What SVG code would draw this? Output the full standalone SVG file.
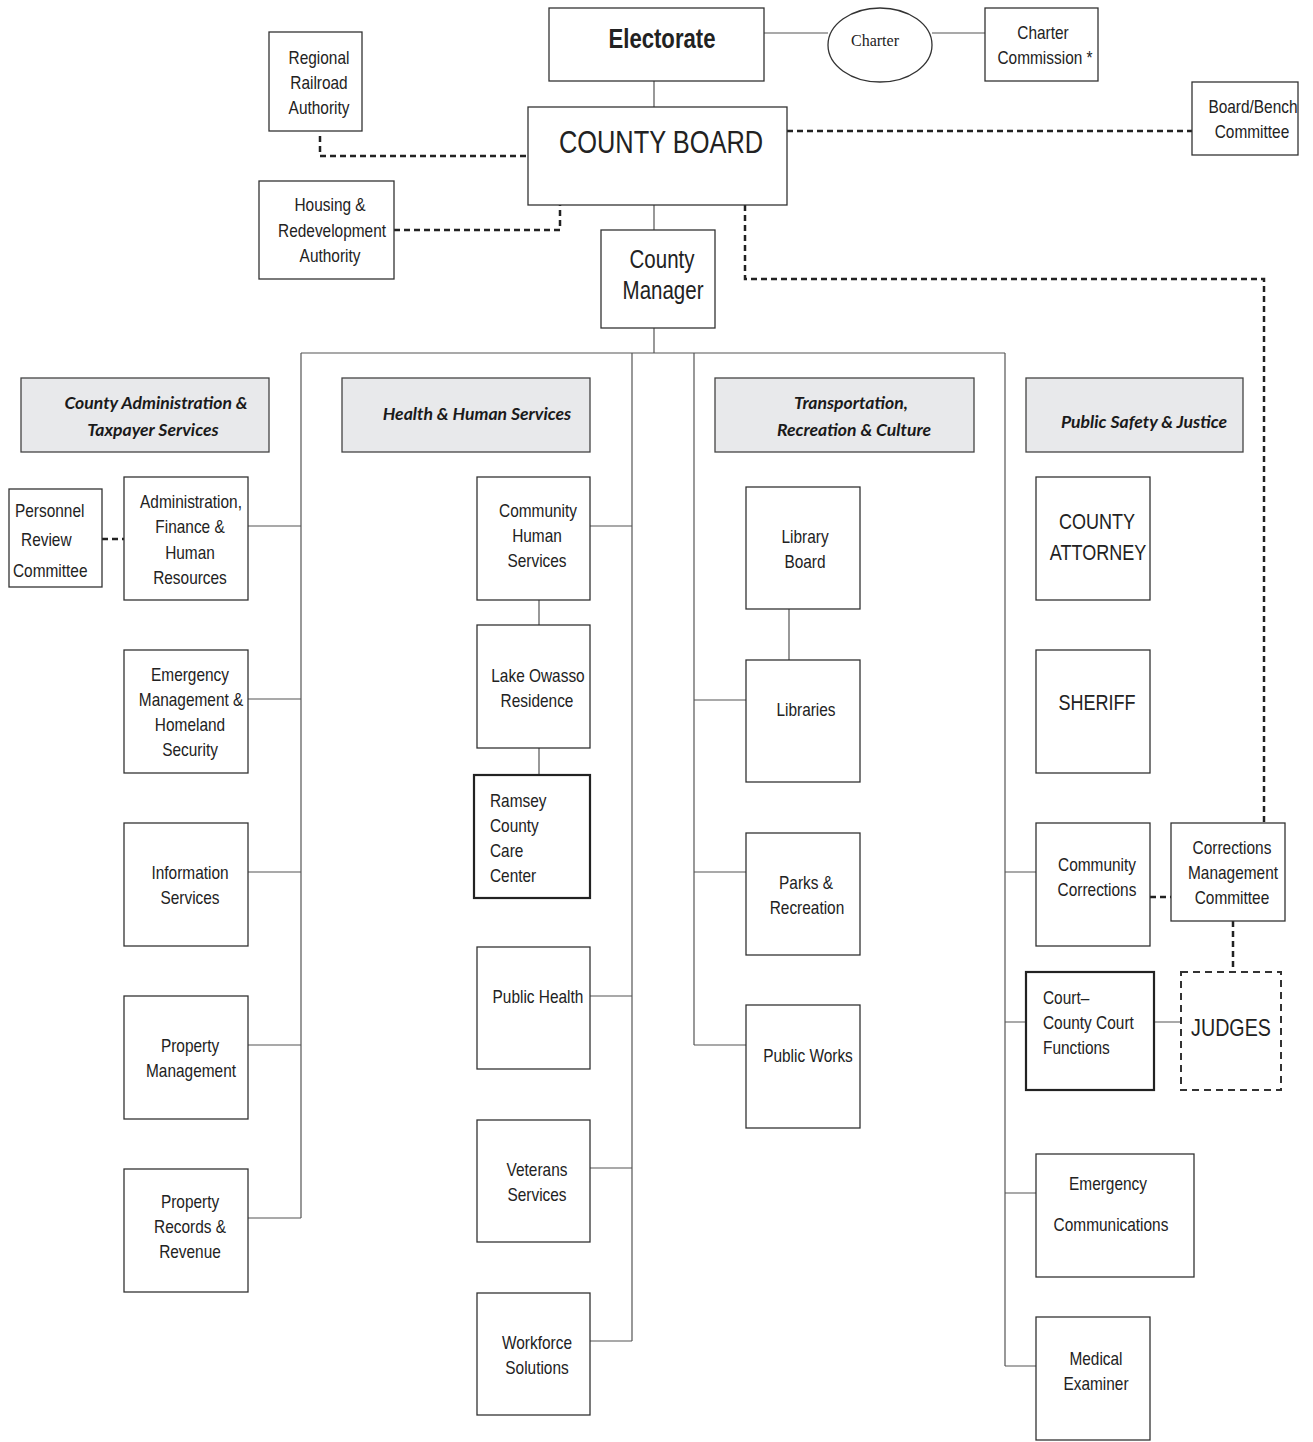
<svg xmlns="http://www.w3.org/2000/svg" width="1313" height="1442" viewBox="0 0 1313 1442">
<style>
.b{fill:#fff;stroke:#333;stroke-width:1.3}
.bt{fill:#fff;stroke:#222;stroke-width:2.2}
.h{fill:#e8e9eb;stroke:#444;stroke-width:1.3}
.t{font-family:"Liberation Sans",Arial,sans-serif;font-size:18.8px;fill:#222;text-anchor:middle;transform-box:fill-box;transform-origin:center;transform:scaleX(0.82)}
.l{text-anchor:start;transform-origin:left center}
.hd{font-family:Lato,"Open Sans",sans-serif;font-weight:bold;font-style:italic;font-size:17.6px;fill:#1a1a1a;text-anchor:middle}
.c{stroke:#555;stroke-width:1.2;fill:none}
.d{stroke:#222;stroke-width:2.5;stroke-dasharray:6 4;fill:none}
</style>
<rect width="1313" height="1442" fill="#fff"/>
<g id="connectors">
<path class="c" d="M764 33H828M932 33H985M654 81V107M654 205V230M654 328V353M301 353H1005M301 353V1218M632 353V1341M694 353V1045M1005 353V1366"/>
<path class="c" d="M248 526H301M248 699H301M248 872H301M248 1045H301M248 1218H301"/>
<path class="c" d="M590 526H632M539 600V625M539 748V775M590 996H632M590 1168H632M590 1341H632"/>
<path class="c" d="M789 609V660M694 700H746M694 872H746M694 1045H746"/>
<path class="c" d="M1005 872H1036M1005 1022H1026M1154 1022H1181M1005 1193H1036M1005 1366H1036"/>
<path class="d" d="M320 136V156H528"/>
<path class="d" d="M394 230H560V205"/>
<path class="d" d="M787 131H1192"/>
<path class="d" d="M745 205V279H1264V822"/>
<path class="d" d="M102 539H124"/>
<path class="d" d="M1150 897H1171"/>
<path class="d" d="M1233 921V972"/>
</g>
<g id="electorate"><rect class="b" x="549" y="8" width="215" height="73"/><text class="t" x="662" y="48" style="font-size:27px;font-weight:bold">Electorate</text></g>
<g id="charter"><ellipse fill="#fff" stroke="#333" stroke-width="1.3" cx="880" cy="45" rx="52" ry="37"/><text x="875" y="46" style="font-family:'Liberation Serif',serif;font-size:16px;fill:#222;text-anchor:middle">Charter</text></g>
<g id="charter-commission"><rect class="b" x="985" y="8" width="113" height="73"/><text class="t" x="1043" y="39">Charter</text><text class="t" x="1045" y="64">Commission *</text></g>
<g id="county-board"><rect class="b" x="528" y="107" width="259" height="98"/><text class="t" x="661" y="153" style="font-size:31px">COUNTY BOARD</text></g>
<g id="regional-railroad"><rect class="b" x="269" y="32" width="93" height="99"/><text class="t" x="319" y="64">Regional</text><text class="t" x="319" y="89">Railroad</text><text class="t" x="319" y="114">Authority</text></g>
<g id="housing"><rect class="b" x="259" y="181" width="135" height="98"/><text class="t" x="330" y="211">Housing &amp;</text><text class="t" x="332" y="237">Redevelopment</text><text class="t" x="330" y="262">Authority</text></g>
<g id="board-bench"><rect class="b" x="1192" y="82" width="106" height="73"/><text class="t" x="1253" y="113">Board/Bench</text><text class="t" x="1252" y="138">Committee</text></g>
<g id="county-manager"><rect class="b" x="601" y="230" width="114" height="98"/><text class="t" x="662" y="268" style="font-size:25px">County</text><text class="t" x="663" y="299" style="font-size:25px">Manager</text></g>
<g id="hdr-admin"><rect class="h" x="21" y="378" width="248" height="74"/><text class="hd" x="156" y="409">County Administration &amp;</text><text class="hd" x="153" y="436">Taxpayer Services</text></g>
<g id="hdr-health"><rect class="h" x="342" y="378" width="248" height="74"/><text class="hd" x="477" y="420">Health &amp; Human Services</text></g>
<g id="hdr-transport"><rect class="h" x="715" y="378" width="259" height="74"/><text class="hd" x="851" y="409">Transportation,</text><text class="hd" x="854" y="436">Recreation &amp; Culture</text></g>
<g id="hdr-safety"><rect class="h" x="1026" y="378" width="217" height="74"/><text class="hd" x="1144" y="428">Public Safety &amp; Justice</text></g>
<g id="personnel"><rect class="b" x="9" y="489" width="93" height="98"/><text class="t l" x="15" y="517">Personnel</text><text class="t l" x="21" y="546">Review</text><text class="t l" x="13" y="577">Committee</text></g>
<g id="admin-finance"><rect class="b" x="124" y="477" width="124" height="123"/><text class="t" x="191" y="508">Administration,</text><text class="t" x="190" y="533">Finance &amp;</text><text class="t" x="190" y="559">Human</text><text class="t" x="190" y="584">Resources</text></g>
<g id="emergency-mgmt"><rect class="b" x="124" y="650" width="124" height="123"/><text class="t" x="190" y="681">Emergency</text><text class="t" x="191" y="706">Management &amp;</text><text class="t" x="190" y="731">Homeland</text><text class="t" x="190" y="756">Security</text></g>
<g id="info-services"><rect class="b" x="124" y="823" width="124" height="123"/><text class="t" x="190" y="879">Information</text><text class="t" x="190" y="904">Services</text></g>
<g id="property-mgmt"><rect class="b" x="124" y="996" width="124" height="123"/><text class="t" x="190" y="1052">Property</text><text class="t" x="191" y="1077">Management</text></g>
<g id="property-records"><rect class="b" x="124" y="1169" width="124" height="123"/><text class="t" x="190" y="1208">Property</text><text class="t" x="190" y="1233">Records &amp;</text><text class="t" x="190" y="1258">Revenue</text></g>
<g id="community-human"><rect class="b" x="477" y="477" width="113" height="123"/><text class="t" x="538" y="517">Community</text><text class="t" x="537" y="542">Human</text><text class="t" x="537" y="567">Services</text></g>
<g id="lake-owasso"><rect class="b" x="477" y="625" width="113" height="123"/><text class="t" x="538" y="682">Lake Owasso</text><text class="t" x="537" y="707">Residence</text></g>
<g id="ramsey-care"><rect class="bt" x="474" y="775" width="116" height="123"/><text class="t l" x="490" y="807">Ramsey</text><text class="t l" x="490" y="832">County</text><text class="t l" x="490" y="857">Care</text><text class="t l" x="490" y="882">Center</text></g>
<g id="public-health"><rect class="b" x="477" y="947" width="113" height="122"/><text class="t" x="538" y="1003">Public Health</text></g>
<g id="veterans"><rect class="b" x="477" y="1120" width="113" height="122"/><text class="t" x="537" y="1176">Veterans</text><text class="t" x="537" y="1201">Services</text></g>
<g id="workforce"><rect class="b" x="477" y="1293" width="113" height="122"/><text class="t" x="537" y="1349">Workforce</text><text class="t" x="537" y="1374">Solutions</text></g>
<g id="library-board"><rect class="b" x="746" y="487" width="114" height="122"/><text class="t" x="805" y="543">Library</text><text class="t" x="805" y="568">Board</text></g>
<g id="libraries"><rect class="b" x="746" y="660" width="114" height="122"/><text class="t" x="806" y="716">Libraries</text></g>
<g id="parks"><rect class="b" x="746" y="833" width="114" height="122"/><text class="t" x="806" y="889">Parks &amp;</text><text class="t" x="807" y="914">Recreation</text></g>
<g id="public-works"><rect class="b" x="746" y="1005" width="114" height="123"/><text class="t" x="808" y="1062">Public Works</text></g>
<g id="county-attorney"><rect class="b" x="1036" y="477" width="114" height="123"/><text class="t" x="1097" y="529" style="font-size:22px">COUNTY</text><text class="t" x="1098" y="560" style="font-size:22px">ATTORNEY</text></g>
<g id="sheriff"><rect class="b" x="1036" y="650" width="114" height="123"/><text class="t" x="1097" y="710" style="font-size:22px">SHERIFF</text></g>
<g id="community-corrections"><rect class="b" x="1036" y="823" width="114" height="123"/><text class="t" x="1097" y="871">Community</text><text class="t" x="1097" y="896">Corrections</text></g>
<g id="corrections-mgmt"><rect class="b" x="1171" y="823" width="114" height="98"/><text class="t" x="1232" y="854">Corrections</text><text class="t" x="1233" y="879">Management</text><text class="t" x="1232" y="904">Committee</text></g>
<g id="court-county"><rect class="bt" x="1026" y="972" width="128" height="118"/><text class="t l" x="1043" y="1004">Court–</text><text class="t l" x="1043" y="1029">County Court</text><text class="t l" x="1043" y="1054">Functions</text></g>
<g id="judges"><rect fill="#fff" stroke="#333" stroke-width="2" stroke-dasharray="7 5" x="1181" y="972" width="100" height="118"/><text class="t" x="1231" y="1036" style="font-size:24px">JUDGES</text></g>
<g id="emergency-comm"><rect class="b" x="1036" y="1154" width="158" height="123"/><text class="t" x="1108" y="1190">Emergency</text><text class="t" x="1111" y="1231">Communications</text></g>
<g id="medical-examiner"><rect class="b" x="1036" y="1317" width="114" height="123"/><text class="t" x="1096" y="1365">Medical</text><text class="t" x="1096" y="1390">Examiner</text></g>
</svg>
